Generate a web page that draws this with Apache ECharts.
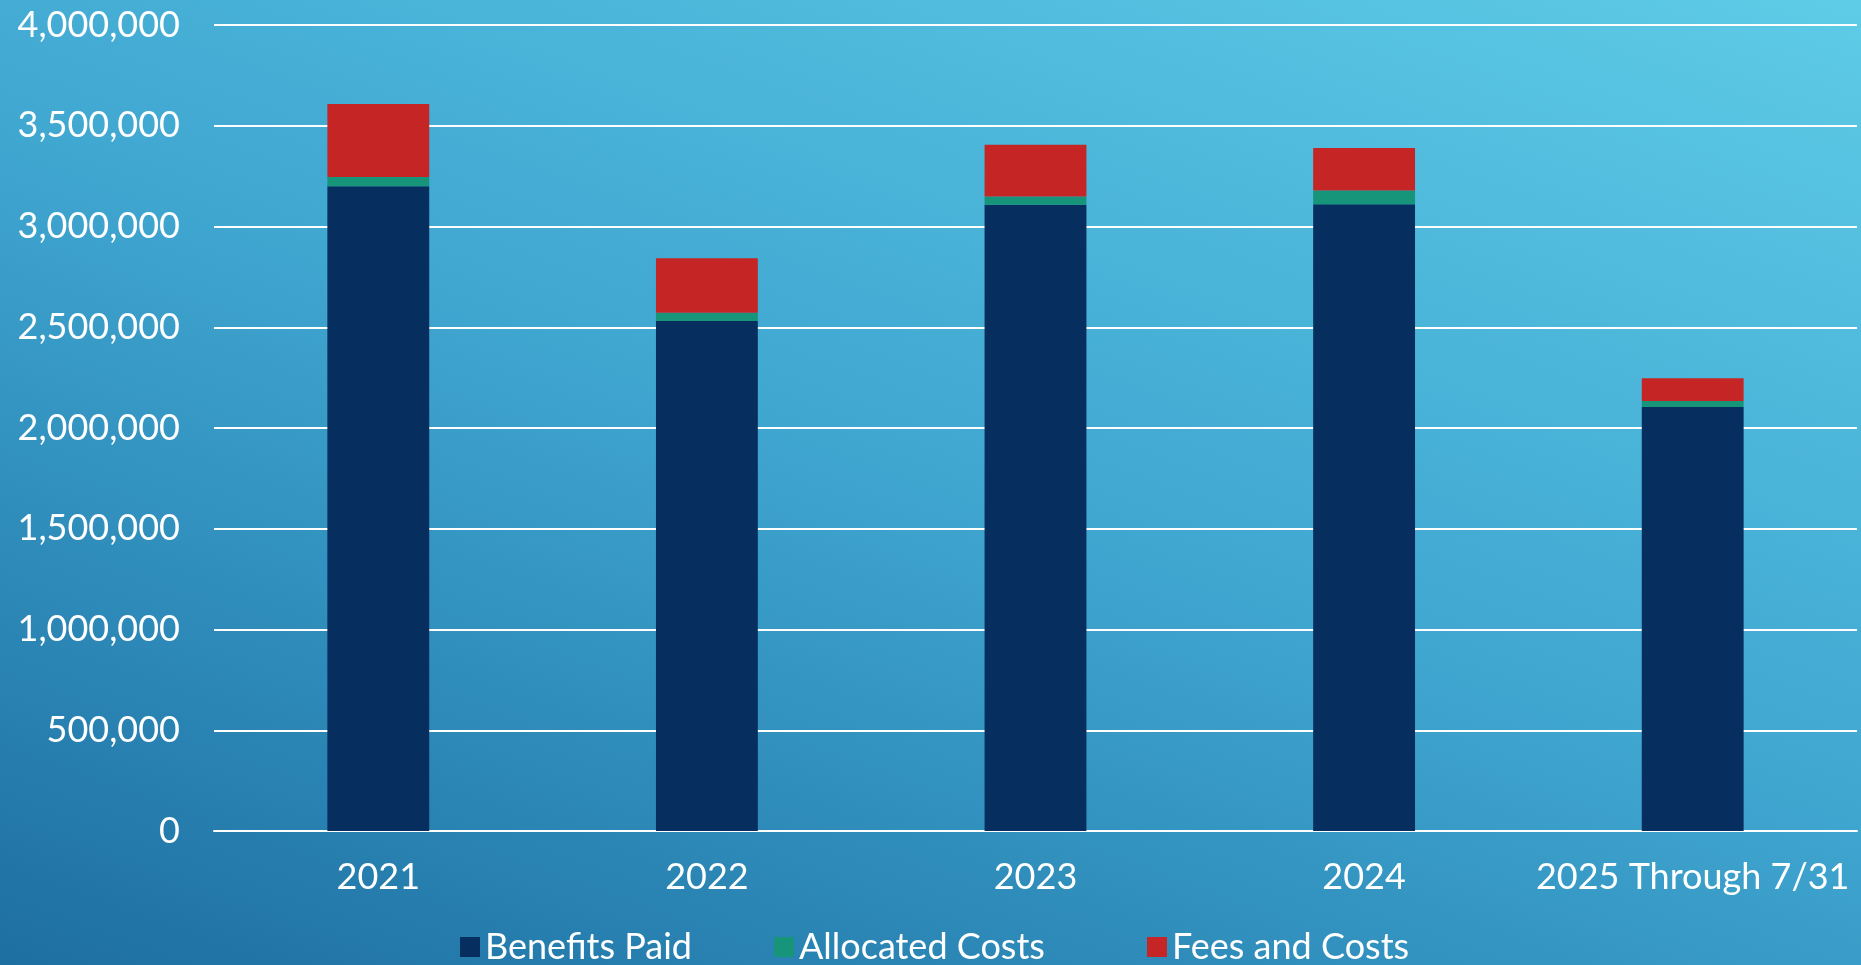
<!DOCTYPE html>
<html>
<head>
<meta charset="utf-8">
<script src="https://cdn.jsdelivr.net/npm/echarts@6/dist/echarts.min.js"></script>
<style>
  html, body { margin: 0; padding: 0; }
  #chart {
    width: 1861px;
    height: 965px;
    background: linear-gradient(200deg, #5ecbe7 0%, #3fa6d0 50%, #1d6fa1 100%);
  }
</style>
</head>
<body>
<div id="chart"></div>
<script>
const categories = ["2021", "2022", "2023", "2024", "2025 Through 7/31"];
const seriesNames = ["Benefits Paid", "Allocated Costs", "Fees and Costs"];
const benefitsPaid = [3200000, 2531000, 3108000, 3111000, 2104000];
const allocatedCosts = [46000, 41000, 41000, 68000, 30000];
const feesAndCosts = [362000, 270000, 257000, 211000, 113000];
const yTicks = { min: 0, max: 4000000, interval: 500000 };

const font = "Lato, 'Open Sans', sans-serif";
const chart = echarts.init(document.getElementById("chart"), null, { renderer: "canvas" });

const fmt = (v) => v.toLocaleString("en-US");

// one legend per entry so each sits where the original put it
const legendLeft = [455, 769, 1142];
const legends = seriesNames.map((name, i) => ({
  left: legendLeft[i],
  top: 924,
  itemWidth: 20,
  itemHeight: 20,
  itemGap: 0,
  icon: "rect",
  textStyle: { color: "#ffffff", fontSize: 36, fontFamily: font },
  data: [name],
}));

chart.setOption({
  backgroundColor: "transparent",
  textStyle: { fontFamily: font },
  grid: { left: 214, right: 4, top: 25, bottom: 134 },
  legend: legends,
  xAxis: {
    type: "category",
    data: categories,
    axisLine: { lineStyle: { color: "#ffffff", width: 2 } },
    axisTick: { show: false },
    axisLabel: { color: "#ffffff", fontSize: 36, margin: 28, interval: 0, fontFamily: font },
  },
  yAxis: {
    type: "value",
    min: yTicks.min,
    max: yTicks.max,
    interval: yTicks.interval,
    axisLine: { show: false },
    axisTick: { show: false },
    axisLabel: { color: "#ffffff", fontSize: 36, margin: 34, fontFamily: font, formatter: fmt },
    splitLine: { lineStyle: { color: "#ffffff", width: 2 } },
  },
  series: [
    {
      name: seriesNames[0],
      type: "bar",
      stack: "total",
      barWidth: "31%",
      data: benefitsPaid,
      itemStyle: { color: "#062f5f" },
    },
    {
      name: seriesNames[1],
      type: "bar",
      stack: "total",
      data: allocatedCosts,
      itemStyle: { color: "#17957a" },
    },
    {
      name: seriesNames[2],
      type: "bar",
      stack: "total",
      data: feesAndCosts,
      itemStyle: { color: "#c62526" },
    },
  ],
});
</script>
</body>
</html>
